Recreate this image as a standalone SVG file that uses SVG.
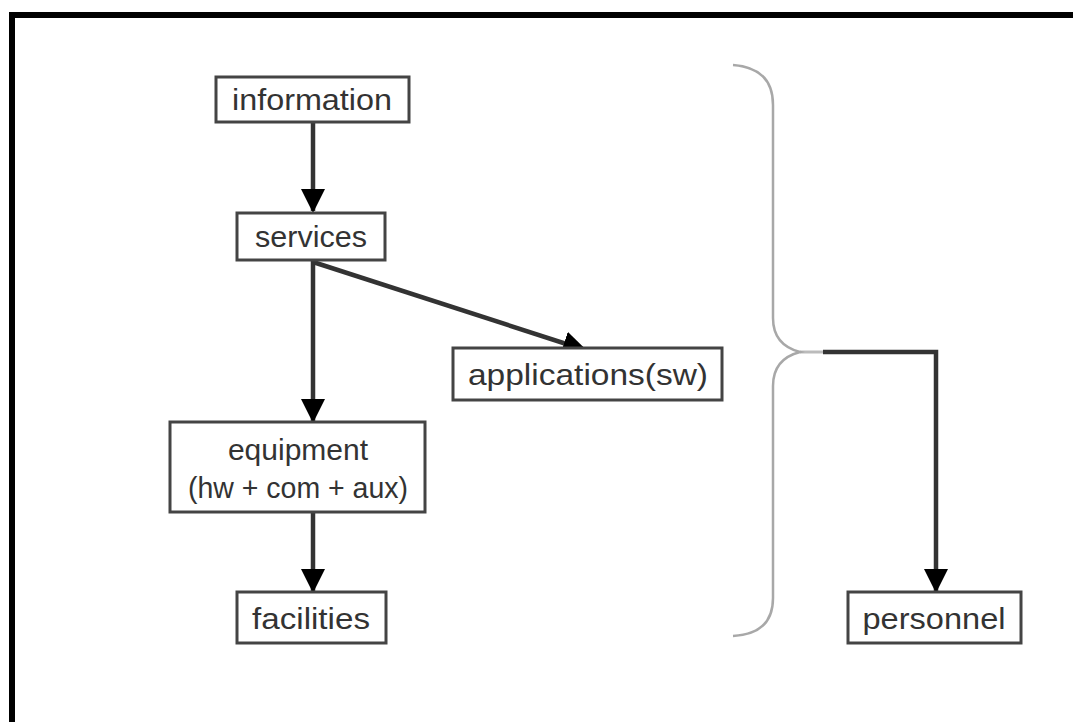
<svg xmlns="http://www.w3.org/2000/svg" width="1073" height="722" viewBox="0 0 1073 722">
  <style>
    .box { fill: #ffffff; stroke: #444444; stroke-width: 3; }
    .lbl { font-family: "Liberation Sans", Arial, sans-serif; font-size: 30px; fill: #333333; text-anchor: middle; }
    .conn { fill: none; stroke: #333333; stroke-width: 4.5; }
    .brace { fill: none; stroke: #a8a8a8; stroke-width: 2.5; }
  </style>
  <defs>
    <marker id="arrow" viewBox="0 0 24 24" refX="22" refY="12" markerWidth="24" markerHeight="24" markerUnits="userSpaceOnUse" orient="auto">
      <path d="M0,0 L24,12 L0,24 z" fill="#000000"/>
    </marker>
  </defs>
  <rect width="1073" height="722" fill="#ffffff"/>
  <path d="M12 722 V15 H1073" fill="none" stroke="#000000" stroke-width="6"/>

  <g id="connectors">
    <path class="conn" d="M313 122 V211" marker-end="url(#arrow)"/>
    <path class="conn" d="M313 260 V421" marker-end="url(#arrow)"/>
    <path class="conn" d="M313 262 L585 350" marker-end="url(#arrow)"/>
    <path class="conn" d="M313 512 V591" marker-end="url(#arrow)"/>
    <path d="M800 352 H823" fill="none" stroke="#bbbbbb" stroke-width="3"/>
    <path class="conn" d="M823 352 H936 V591" marker-end="url(#arrow)"/>
  </g>

  <g id="brace">
    <path class="brace" d="M733 65 Q773 68 773 105 L773 318 Q773 345 800 352 Q773 359 773 386 L773 598 Q773 634 733 636"/>
  </g>

  <g id="information">
    <rect class="box" x="216" y="77" width="193" height="45"/>
    <text class="lbl" x="312" y="110" textLength="160" lengthAdjust="spacingAndGlyphs">information</text>
  </g>
  <g id="services">
    <rect class="box" x="237" y="213" width="148" height="47"/>
    <text class="lbl" x="311" y="247" textLength="112" lengthAdjust="spacingAndGlyphs">services</text>
  </g>
  <g id="applications">
    <rect class="box" x="453" y="348" width="269" height="52"/>
    <text class="lbl" x="588" y="385" textLength="240" lengthAdjust="spacingAndGlyphs">applications(sw)</text>
  </g>
  <g id="equipment">
    <rect class="box" x="170" y="422" width="255" height="90"/>
    <text class="lbl" x="298" y="460">equipment</text>
    <text class="lbl" x="298" y="498" textLength="220" lengthAdjust="spacingAndGlyphs">(hw + com + aux)</text>
  </g>
  <g id="facilities">
    <rect class="box" x="237" y="592" width="149" height="51"/>
    <text class="lbl" x="311" y="629" textLength="118" lengthAdjust="spacingAndGlyphs">facilities</text>
  </g>
  <g id="personnel">
    <rect class="box" x="848" y="592" width="173" height="51"/>
    <text class="lbl" x="934" y="629" textLength="143" lengthAdjust="spacingAndGlyphs">personnel</text>
  </g>
</svg>
